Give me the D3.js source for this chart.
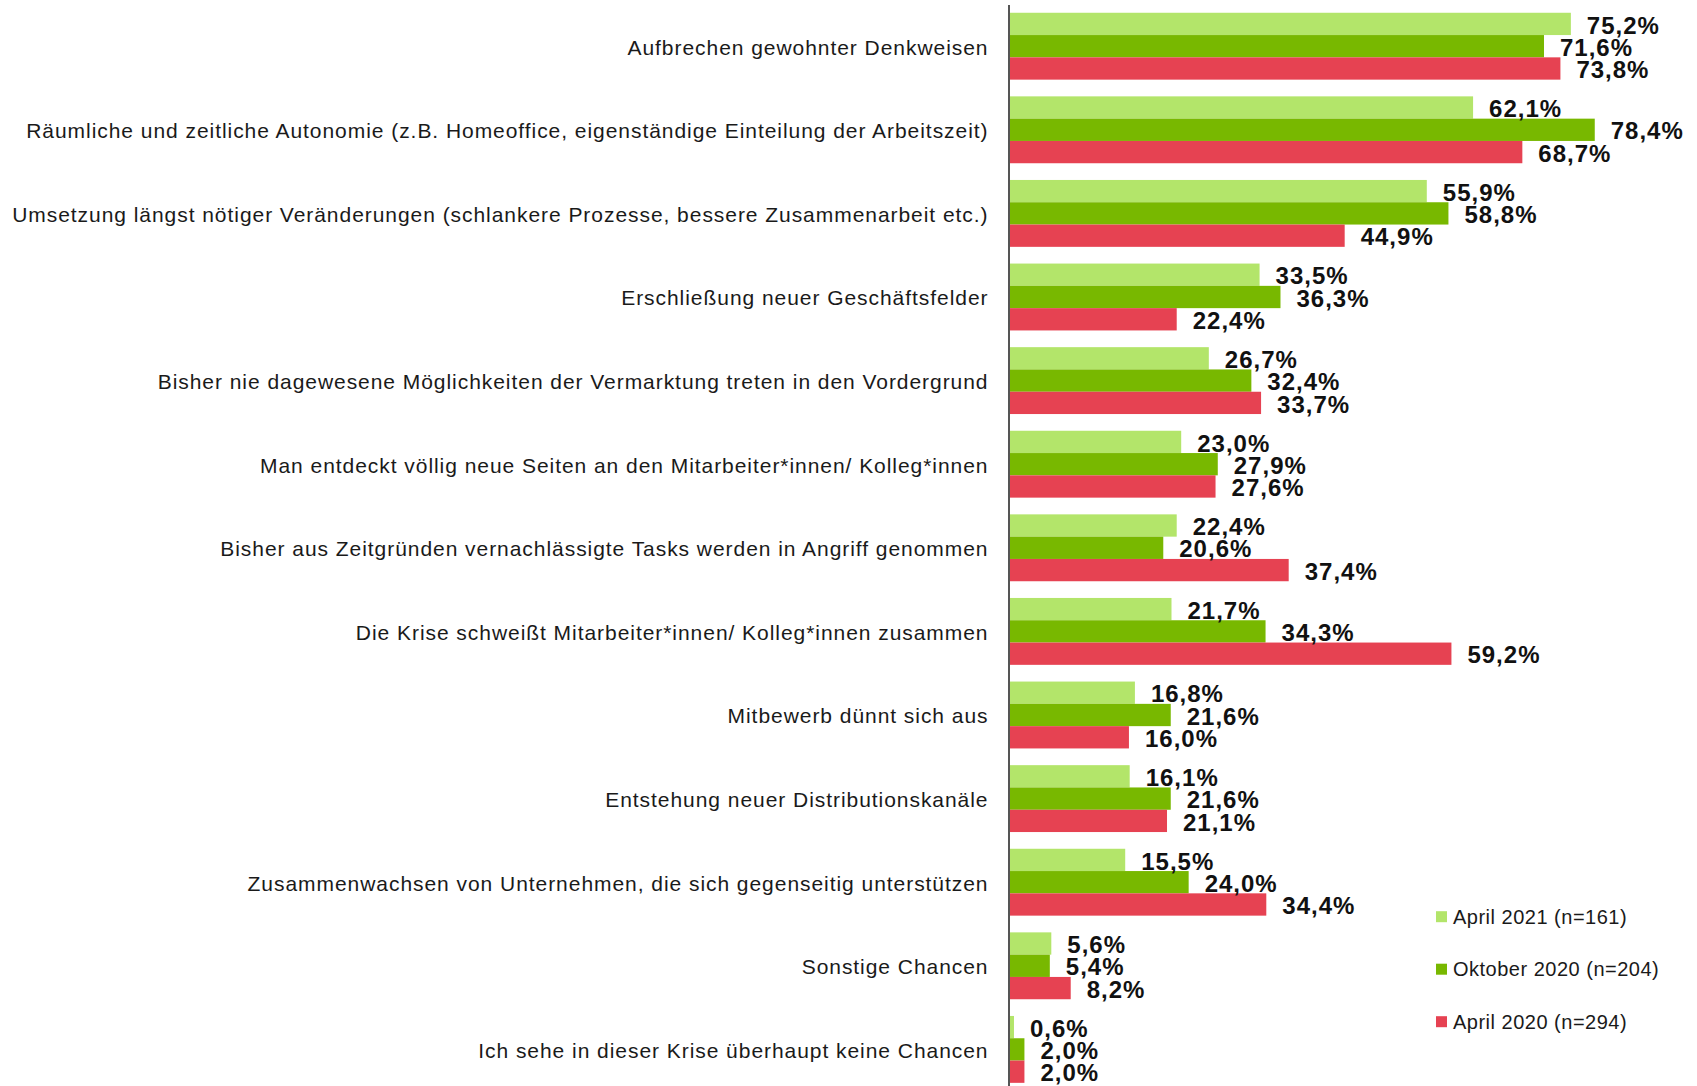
<!DOCTYPE html>
<html>
<head>
<meta charset="utf-8">
<script src="https://cdn.jsdelivr.net/npm/d3@7"></script>
<style>
  html, body { margin: 0; padding: 0; background: #fff; }
  svg { display: block; font-family: "Liberation Sans", Arial, sans-serif; }
</style>
</head>
<body>
<div id="chart"></div>
<script>
const categories = [
  'Aufbrechen gewohnter Denkweisen',
  'Räumliche und zeitliche Autonomie (z.B. Homeoffice, eigenständige Einteilung der Arbeitszeit)',
  'Umsetzung längst nötiger Veränderungen (schlankere Prozesse, bessere Zusammenarbeit etc.)',
  'Erschließung neuer Geschäftsfelder',
  'Bisher nie dagewesene Möglichkeiten der Vermarktung treten in den Vordergrund',
  'Man entdeckt völlig neue Seiten an den Mitarbeiter*innen/ Kolleg*innen',
  'Bisher aus Zeitgründen vernachlässigte Tasks werden in Angriff genommen',
  'Die Krise schweißt Mitarbeiter*innen/ Kolleg*innen zusammen',
  'Mitbewerb dünnt sich aus',
  'Entstehung neuer Distributionskanäle',
  'Zusammenwachsen von Unternehmen, die sich gegenseitig unterstützen',
  'Sonstige Chancen',
  'Ich sehe in dieser Krise überhaupt keine Chancen'
];

const seriesNames = ['April 2021 (n=161)', 'Oktober 2020 (n=204)', 'April 2020 (n=294)'];
const april2021 = [75.2, 62.1, 55.9, 33.5, 26.7, 23.0, 22.4, 21.7, 16.8, 16.1, 15.5, 5.6, 0.6];
const oktober2020 = [71.6, 78.4, 58.8, 36.3, 32.4, 27.9, 20.6, 34.3, 21.6, 21.6, 24.0, 5.4, 2.0];
const april2020 = [73.8, 68.7, 44.9, 22.4, 33.7, 27.6, 37.4, 59.2, 16.0, 21.1, 34.4, 8.2, 2.0];
const colors = ['#b3e56a', '#78b800', '#e64252'];

const width = 1697, height = 1086;
const allSeries = [april2021, oktober2020, april2020];

const svg = d3.select('#chart').append('svg')
  .attr('width', width)
  .attr('height', height);

const x = d3.scaleLinear().domain([0, 100]).range([1009.5, 1756]);

const y = d3.scaleBand()
  .domain(categories)
  .range([4.4, 1091.2])
  .paddingInner(0.2)
  .paddingOuter(0.1);

const ySub = d3.scaleBand()
  .domain(seriesNames)
  .range([0, y.bandwidth()]);

const fmt = v => v.toFixed(1).replace('.', ',') + '%';

// bars
const groups = svg.selectAll('g.group')
  .data(categories)
  .enter()
  .append('g')
  .attr('class', 'group')
  .attr('transform', d => `translate(0,${y(d)})`);

groups.selectAll('rect')
  .data((d, i) => allSeries.map((s, j) => ({ name: seriesNames[j], value: s[i], color: colors[j] })))
  .enter()
  .append('rect')
  .attr('x', x(0))
  .attr('y', d => ySub(d.name))
  .attr('width', d => x(d.value) - x(0))
  .attr('height', ySub.bandwidth())
  .attr('fill', d => d.color);

groups.selectAll('text.val')
  .data((d, i) => allSeries.map((s, j) => ({ name: seriesNames[j], value: s[i] })))
  .enter()
  .append('text')
  .attr('class', 'val')
  .attr('x', d => x(d.value) + 16)
  .attr('y', d => ySub(d.name) + ySub.bandwidth() / 2 + 1)
  .attr('dy', '0.36em')
  .style('font-size', '24px')
  .style('font-weight', 'bold')
  .style('letter-spacing', '1px')
  .style('fill', '#111')
  .text(d => fmt(d.value));

// category axis
const axis = svg.append('g')
  .attr('transform', `translate(${x(0) - 1},0)`)
  .call(d3.axisLeft(y).tickSize(0).tickPadding(20));

axis.select('.domain')
  .attr('stroke', '#555')
  .attr('stroke-width', 2);

axis.selectAll('.tick text')
  .attr('dy', '0.4em')
  .style('font-size', '21px')
  .style('letter-spacing', '0.95px')
  .style('font-family', '"Liberation Sans", Arial, sans-serif')
  .style('fill', '#1a1a1a');

// legend
const legend = svg.selectAll('g.legend')
  .data(seriesNames)
  .enter()
  .append('g')
  .attr('class', 'legend')
  .attr('transform', (d, i) => `translate(1436,${916.7 + i * 52.5})`);

legend.append('rect')
  .attr('x', 0)
  .attr('y', -5.5)
  .attr('width', 11)
  .attr('height', 11)
  .attr('fill', (d, i) => colors[i]);

legend.append('text')
  .attr('x', 17)
  .attr('y', 0)
  .attr('dy', '0.36em')
  .style('font-size', '20px')
  .style('letter-spacing', '0.5px')
  .style('fill', '#1a1a1a')
  .text(d => d);
</script>
</body>
</html>
